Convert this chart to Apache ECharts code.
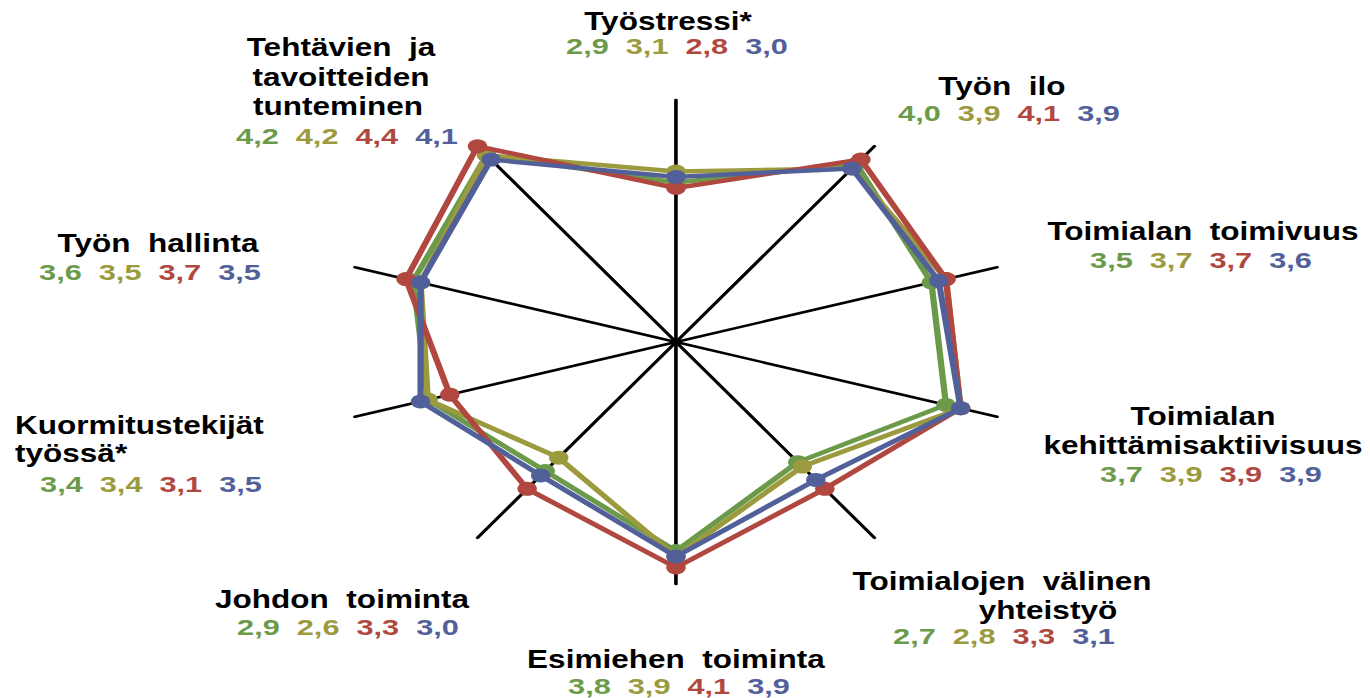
<!DOCTYPE html>
<html>
<head>
<meta charset="utf-8">
<script src="https://cdn.jsdelivr.net/npm/echarts@6/dist/echarts.min.js"></script>
<style>
  html, body { margin: 0; padding: 0; background: #fff; overflow: hidden; }
  #wrap { width: 1370px; height: 698px; overflow: hidden; }
  #chart { width: 982px; height: 698px; transform: scaleX(1.3951); transform-origin: 0 0; }
</style>
</head>
<body>
<div id="wrap"><div id="chart"></div></div>
<script>
// axes clockwise from the top
const axisNames = [
  ["Työstressi*"],
  ["Työn  ilo"],
  ["Toimialan  toimivuus"],
  ["Toimialan", "kehittämisaktiivisuus"],
  ["Toimialojen  välinen", "yhteistyö"],
  ["Esimiehen  toiminta"],
  ["Johdon  toiminta"],
  ["Kuormitustekijät", "työssä*"],
  ["Työn  hallinta"],
  ["Tehtävien  ja", "tavoitteiden", "tunteminen"]
];
const seriesNames = ["A", "B", "C", "D"];
const valuesGreen = [2.9, 4.0, 3.5, 3.7, 2.7, 3.8, 2.9, 3.4, 3.6, 4.2];
const valuesOlive = [3.1, 3.9, 3.7, 3.9, 2.8, 3.9, 2.6, 3.4, 3.5, 4.2];
const valuesRed   = [2.8, 4.1, 3.7, 3.9, 3.3, 4.1, 3.3, 3.1, 3.7, 4.4];
const valuesBlue  = [3.0, 3.9, 3.6, 3.9, 3.1, 3.9, 3.0, 3.5, 3.5, 4.1];
const axisMax = 4.4;

const colors = ["#6B9A4B", "#9C9A3F", "#B0483F", "#52609A"];
const STRETCH = 1370 / 982;

// label layout in screen px: centre x of each name line, cap-centre y of each line, values line
const labelLayout = [
  { xs: [668], ys: [21], vx: 677, vy: 47 },
  { xs: [1002], ys: [86], vx: 1009, vy: 114 },
  { xs: [1203], ys: [231], vx: 1201, vy: 261 },
  { xs: [1203, 1203], ys: [416, 445], vx: 1211, vy: 475 },
  { xs: [1002, 1048], ys: [581, 610], vx: 1004, vy: 637 },
  { xs: [676], ys: [659], vx: 679, vy: 687 },
  { xs: [342], ys: [599], vx: 348, vy: 628 },
  { xs: [15, 15], ys: [425, 453], vx: 151, vy: 485, align: "left" },
  { xs: [158], ys: [243], vx: 150, vy: 273 },
  { xs: [341, 341, 338], ys: [47, 77, 106], vx: 347, vy: 137 }
];

// ECharts lays radar indicators counter-clockwise, so reverse the order after the top axis
const order = [0, 9, 8, 7, 6, 5, 4, 3, 2, 1];
const pick = arr => order.map(i => arr[i]);
const fmt = v => v.toFixed(1).replace(".", ",");

const allValues = [valuesGreen, valuesOlive, valuesRed, valuesBlue];

const graphic = [];
labelLayout.forEach((l, i) => {
  axisNames[i].forEach((line, j) => {
    graphic.push({
      type: "text",
      x: l.xs[j] / STRETCH,
      y: l.ys[j],
      scaleY: 1.13,
      style: {
        text: line,
        fill: "#000",
        font: 'bold 22.6px "Liberation Sans", Arial, sans-serif',
        textAlign: l.align || "center",
        align: l.align || "center",
        textVerticalAlign: "middle",
        verticalAlign: "middle"
      }
    });
  });
  const keys = ["g", "o", "r", "b"];
  const rich = {};
  keys.forEach((k, s) => {
    rich[k] = { fill: colors[s], font: 'bold 22px "Liberation Sans", Arial, sans-serif' };
  });
  graphic.push({
    type: "text",
    x: l.vx / STRETCH,
    y: l.vy,
    style: {
      text: keys.map((k, s) => "{" + k + "|" + fmt(allValues[s][i]) + "}").join("  "),
      rich: rich,
      font: 'bold 22px "Liberation Sans", Arial, sans-serif',
      fill: "#000",
      textAlign: "center",
      align: "center",
      textVerticalAlign: "middle",
      verticalAlign: "middle"
    }
  });
});

const chart = echarts.init(document.getElementById("chart"), null, { renderer: "svg" });

const option = {
  animation: false,
  backgroundColor: "#fff",
  radar: {
    center: [676 / STRETCH, 342],
    radius: 242,
    startAngle: 90,
    splitNumber: 1,
    shape: "polygon",
    indicator: pick(axisNames).map(n => ({ name: n.join(" "), min: 0, max: axisMax })),
    axisName: { show: false },
    splitLine: { show: false },
    splitArea: { show: false },
    axisTick: { show: false },
    axisLabel: { show: false },
    axisLine: { lineStyle: { color: "#000", width: 2.6 } }
  },
  series: allValues.map((vals, s) => ({
    type: "radar",
    name: seriesNames[s],
    z: 2 + s,
    symbol: "circle",
    symbolSize: 14,
    lineStyle: { color: colors[s], width: 4.5 },
    itemStyle: { color: colors[s] },
    data: [{ value: pick(vals), name: seriesNames[s] }]
  })),
  graphic: graphic
};

chart.setOption(option);
</script>
</body>
</html>
